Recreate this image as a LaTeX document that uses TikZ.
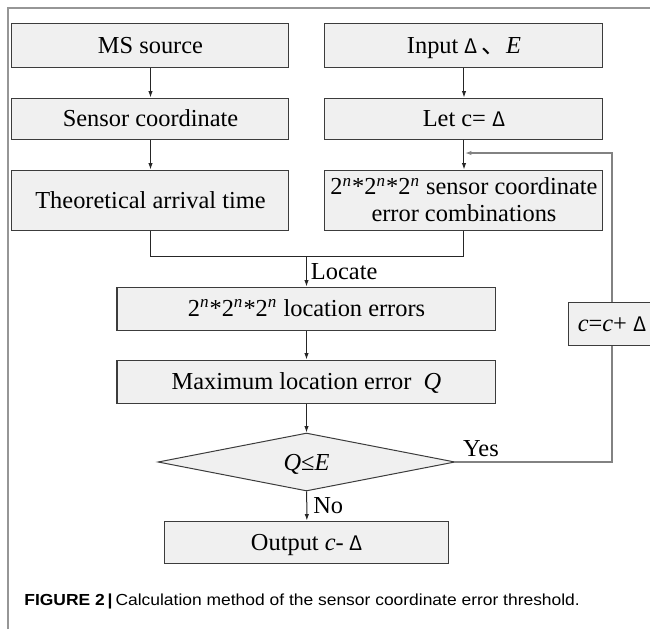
\documentclass[tikz,border=0pt]{standalone}
\usepackage{fontspec}
\setmainfont{Liberation Serif}
\newfontfamily\capfont{Liberation Sans}
\newfontfamily\cjk{Noto Sans CJK SC}
\usetikzlibrary{shapes, arrows.meta, positioning, calc}
\definecolor{boxgray}{RGB}{240, 240, 240}
\definecolor{edgegray}{RGB}{60, 60, 60}
\definecolor{loopgray}{RGB}{130, 130, 130}
\definecolor{framegray}{RGB}{150, 150, 150}
\newcommand{\dlt}{\smash{\cjk\fontsize{10}{12}\selectfont Δ}}
\newcommand{\dun}{\smash{\cjk 、}}
\newcommand{\pw}{2\textsuperscript{\textit{n}}}

\begin{document}
\begin{tikzpicture}[x=0.5pt, y=-0.5pt,
    font=\fontsize{12.2}{14.5}\selectfont,
    twobox/.style={draw=edgegray, fill=boxgray, line width=0.5pt, inner sep=0pt, align=center},
    procbox/.style={twobox, text height=8.1pt, text depth=0pt},
    decide/.style={draw=edgegray, fill=boxgray, line width=0.5pt, diamond, aspect=5.1, inner sep=0pt, minimum width=148.5pt, minimum height=29pt},
    flow/.style={draw=black!85, line width=0.5pt, -{Latex[length=3.2pt, width=2.2pt]}},
    plain/.style={draw=black!85, line width=0.5pt},
    loopline/.style={draw=loopgray, line width=0.6pt}]
  \useasboundingbox (0,0) rectangle (650,629);
  \clip (0,0) rectangle (650,629);
  % frame
  \draw[framegray, line width=0.6pt] (8,629) -- (8,8) -- (650,8);

  % left column
  \node[procbox, minimum width=138.5pt, minimum height=22pt] (ms) at (150.5,45) {MS source};
  \node[procbox, minimum width=138.5pt, minimum height=20.5pt] (sensor) at (150.5,118.5) {Sensor coordinate};
  \node[procbox, minimum width=138.5pt, minimum height=30pt] (theo) at (150.5,200) {Theoretical arrival time};

  % right column
  \node[procbox, minimum width=139pt, minimum height=22pt] (input) at (464,45) {Input \dlt\,\dun\textit{E}};
  \node[procbox, minimum width=139pt, minimum height=20.5pt] (letc) at (464,118.5) {Let c= \dlt};
  \node[twobox, minimum width=139pt, minimum height=30pt] (comb) at (464,200)
    {\pw*\pw*\pw{} sensor coordinate\\[-1pt] error combinations};

  % main flow
  \node[procbox, minimum width=189.5pt, minimum height=21.5pt] (locerr) at (306.5,308.5) {\pw*\pw*\pw{} location errors};
  \node[procbox, minimum width=189.5pt, minimum height=21.5pt] (maxerr) at (306.5,381.5) {Maximum location error~ \textit{Q}};
  \node[decide, text height=8.1pt, text depth=0pt] (dec) at (306.5,462) {\textit{Q}≤\textit{E}};
  \node[procbox, minimum width=142pt, minimum height=21pt] (out) at (307,542) {Output \textit{c}- \dlt};
  \node[procbox, minimum width=43pt, minimum height=21.5pt] (cbox) at (612,323.5) {\textit{c}=\textit{c}+ \dlt};

  \coordinate (join) at (306.5,256);
  \coordinate (back) at (465,153);

  \draw[flow] (ms) -- (sensor);
  \draw[flow] (sensor) -- (theo);
  \draw[flow] (input) -- (letc);
  \draw[flow] (letc) -- (comb);
  \draw[plain] (theo.south) |- (join) -| (comb.south);
  \draw[flow] (join) -- node[right, inner sep=2pt] {Locate} (locerr.north);
  \draw[flow] (locerr) -- (maxerr);
  \draw[flow] (maxerr) -- (dec);
  \draw[flow] (dec) -- node[right, inner sep=3pt] {No} (out);

  % loop back
  \node (yes) at (481,449) {Yes};
  \draw[loopline] (dec.east) -| (cbox.south);
  \draw[loopline, -{Latex[length=3.2pt, width=2.2pt]}] (cbox.north) |- (back);

  % caption
  \node[anchor=west, inner sep=0pt] (cap) at (24,601)
    {\scalebox{1.09}[1]{\capfont\fontsize{8}{10}\selectfont\textbf{FIGURE 2}\,\textbf{|}\,Calculation method of the sensor coordinate error threshold.}};
\end{tikzpicture}
\end{document}
